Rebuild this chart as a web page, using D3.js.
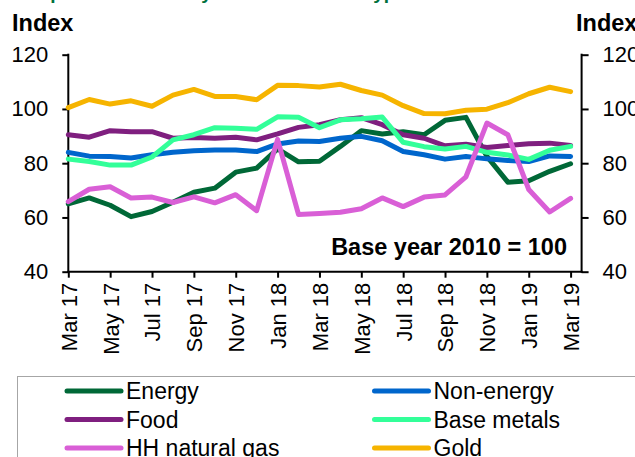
<!DOCTYPE html>
<html>
<head>
<meta charset="utf-8">
<script src="https://cdn.jsdelivr.net/npm/d3@7"></script>
<style>
  body { margin: 0; background: #fff; }
  svg { display: block; font-family: "Liberation Sans", Arial, sans-serif; }
</style>
</head>
<body>
<div id="chart"></div>
<script>
// monthly index values, base year 2010 = 100
var months = ["Mar 17", "Apr 17", "May 17", "Jun 17", "Jul 17", "Aug 17", "Sep 17", "Oct 17", "Nov 17", "Dec 17",
              "Jan 18", "Feb 18", "Mar 18", "Apr 18", "May 18", "Jun 18", "Jul 18", "Aug 18", "Sep 18", "Oct 18",
              "Nov 18", "Dec 18", "Jan 19", "Feb 19", "Mar 19"];
var energy     = [65.0, 67.2, 64.5, 60.3, 62.2, 65.6, 69.3, 70.8, 76.7, 78.2, 85.3, 80.5, 80.7, 86.2, 92.0, 90.8, 91.6, 90.5, 95.8, 96.9, 82.5, 73.0, 73.5, 77.0, 79.8];
var nonEnergy  = [84.0, 82.6, 82.5, 81.9, 83.1, 84.0, 84.6, 84.9, 84.9, 84.3, 87.1, 88.2, 88.0, 89.2, 89.9, 88.3, 84.3, 83.1, 81.5, 82.5, 81.6, 81.0, 80.6, 82.7, 82.5];
var food       = [90.5, 89.6, 92.0, 91.6, 91.6, 89.2, 89.5, 89.2, 89.6, 88.6, 90.8, 93.2, 94.2, 96.0, 96.8, 94.2, 90.5, 89.2, 86.4, 87.0, 85.8, 86.5, 87.2, 87.4, 86.5];
var baseMetals = [81.5, 80.6, 79.3, 79.3, 82.3, 88.6, 90.5, 93.1, 92.9, 92.5, 97.1, 96.9, 93.1, 96.0, 96.4, 97.0, 87.7, 86.1, 85.2, 86.2, 84.0, 83.0, 81.4, 84.8, 86.2];
var hhGas      = [65.8, 70.4, 71.3, 67.2, 67.5, 65.5, 67.6, 65.4, 68.4, 62.5, 88.8, 61.1, 61.5, 61.9, 63.2, 67.2, 64.0, 67.5, 68.3, 75.0, 94.8, 90.5, 70.3, 62.0, 67.0];
var gold       = [100.5, 103.5, 101.8, 103.0, 101.0, 105.1, 107.2, 104.6, 104.6, 103.4, 108.7, 108.6, 108.1, 109.1, 106.8, 105.1, 101.2, 98.3, 98.2, 99.5, 99.9, 102.3, 105.6, 108.0, 106.4];

var seriesNames  = ["Energy", "Non-energy", "Food", "Base metals", "HH natural gas", "Gold"];
var seriesColors = ["#006837", "#0066cc", "#7f1f7f", "#33ff99", "#d95fd6", "#f6b400"];
var yTicks = [40, 60, 80, 100, 120];

var width = 635, height = 457;

var svg = d3.select("#chart").append("svg")
    .attr("width", width)
    .attr("height", height);

var seriesValues = [energy, nonEnergy, food, baseMetals, hhGas, gold];
var series = seriesNames.map(function(name, i) {
  return { name: name, color: seriesColors[i], values: seriesValues[i] };
});

// plot area: first month sits on the left axis, right axis a bit past the last month
var left = 68.3, lastX = 570.6;
var x = d3.scaleLinear()
    .domain([0, months.length - 1])
    .range([left, lastX]);
var rightAxisX = lastX + 11;

var y = d3.scaleLinear()
    .domain([40, 120])
    .range([271.7, 54.7]);

// title line, mostly above the top edge (only descenders show)
svg.append("text")
    .attr("x", 8)
    .attr("y", -1)
    .style("font-size", "19px")
    .style("font-weight", "bold")
    .attr("fill", "#00703c")
    .text("Component indices by broad class and type");

// axis titles
svg.append("text")
    .attr("x", 12).attr("y", 31)
    .style("font-size", "23.5px").style("font-weight", "bold")
    .text("Index");
svg.append("text")
    .attr("x", 576).attr("y", 31)
    .style("font-size", "23.5px").style("font-weight", "bold")
    .text("Index");

// left and right y axes
var yLeft = d3.axisLeft(y).tickValues(yTicks).tickSize(6).tickPadding(14);
var yRight = d3.axisRight(y).tickValues(yTicks).tickSize(7).tickPadding(14);

var gl = svg.append("g")
    .attr("transform", "translate(" + left + ",0)")
    .call(yLeft);
var gr = svg.append("g")
    .attr("transform", "translate(" + rightAxisX + ",0)")
    .call(yRight);

[gl, gr].forEach(function(g) {
  g.select(".domain").remove();
  g.selectAll(".tick line").attr("stroke", "#000").attr("stroke-width", 2);
  g.selectAll(".tick text")
    .attr("fill", "#000")
    .style("font-family", "Liberation Sans, Arial, sans-serif")
    .style("font-size", "22px");
});

svg.append("line")
    .attr("x1", left).attr("x2", left)
    .attr("y1", y(120) - 1).attr("y2", y(40) + 1)
    .attr("stroke", "#000").attr("stroke-width", 2);
svg.append("line")
    .attr("x1", rightAxisX).attr("x2", rightAxisX)
    .attr("y1", y(120) - 1).attr("y2", y(40) + 1)
    .attr("stroke", "#000").attr("stroke-width", 2);

// x axis, labelled every second month
var tickIdx = d3.range(0, months.length, 2);
var xAxis = d3.axisBottom(x)
    .tickValues(tickIdx)
    .tickFormat(function(d) { return months[d]; })
    .tickSize(6)
    .tickPadding(0);

var gx = svg.append("g")
    .attr("transform", "translate(0," + y(40) + ")")
    .call(xAxis);
gx.select(".domain").remove();
gx.selectAll(".tick line").attr("stroke", "#000").attr("stroke-width", 2);
gx.selectAll(".tick text")
    .attr("fill", "#000")
    .style("font-family", "Liberation Sans, Arial, sans-serif")
    .style("font-size", "22px")
    .attr("text-anchor", "end")
    .attr("transform", "rotate(-90)")
    .attr("x", -11)
    .attr("y", 0)
    .attr("dy", "0.36em");

svg.append("line")
    .attr("x1", left - 1).attr("x2", rightAxisX + 1)
    .attr("y1", y(40)).attr("y2", y(40))
    .attr("stroke", "#000").attr("stroke-width", 2);

// series lines
var line = d3.line()
    .x(function(d, i) { return x(i); })
    .y(function(d) { return y(d); });

svg.selectAll(".series")
    .data(series)
    .enter()
    .append("path")
    .attr("class", "series")
    .attr("d", function(d) { return line(d.values); })
    .attr("fill", "none")
    .attr("stroke", function(d) { return d.color; })
    .attr("stroke-width", 5)
    .attr("stroke-linejoin", "round")
    .attr("stroke-linecap", "round");

// note inside the plot
svg.append("text")
    .attr("x", 567).attr("y", 255)
    .attr("text-anchor", "end")
    .style("font-size", "23.5px").style("font-weight", "bold")
    .text("Base year 2010 = 100");

// legend, partly cut off by the bottom and right edges
var legend = svg.append("g");
legend.append("rect")
    .attr("x", 17.5).attr("y", 376.5)
    .attr("width", 660).attr("height", 120)
    .attr("fill", "none")
    .attr("stroke", "#a6a6a6")
    .attr("stroke-width", 1);

var legendItem = legend.selectAll(".item")
    .data(series)
    .enter()
    .append("g")
    .attr("class", "item")
    .attr("transform", function(d, i) {
      var col = i % 2, row = Math.floor(i / 2);
      return "translate(" + (col == 0 ? 67 : 374.5) + "," + (391 + row * 28.5) + ")";
    });

legendItem.append("line")
    .attr("x1", 0).attr("x2", 54)
    .attr("stroke", function(d) { return d.color; })
    .attr("stroke-width", 5)
    .attr("stroke-linecap", "round");

legendItem.append("text")
    .attr("x", 59)
    .attr("dy", "0.36em")
    .style("font-size", "23px")
    .text(function(d) { return d.name; });
</script>
</body>
</html>
